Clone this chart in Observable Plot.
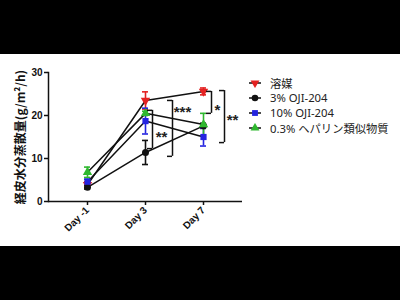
<!DOCTYPE html>
<html>
<head>
<meta charset="utf-8">
<script src="https://cdn.jsdelivr.net/npm/d3@7"></script>
<script src="https://cdn.jsdelivr.net/npm/@observablehq/plot@0.6"></script>
<style>
  html, body { margin: 0; padding: 0; background: #000; width: 400px; height: 300px; overflow: hidden; }
  #panel { position: absolute; left: 0; top: 54px; width: 400px; height: 192px; background: #fff; }
  #legend { position: absolute; left: 248px; top: 21px; font-family: "Noto Sans", "Noto Sans CJK JP", sans-serif; font-size: 11.3px; color: #222; }
  .row { display: flex; align-items: center; height: 15.2px; }
  .row svg { margin-right: 8px; }
</style>
</head>
<body>
<div id="panel"><div id="legend"></div></div>
<script>
const days = ["Day -1", "Day 3", "Day 7"];
const seriesNames = ["溶媒", "3% OJI-204", "10% OJI-204", "0.3% ヘパリン類似物質"];
const seriesColors = ["#e32222", "#111111", "#2424e0", "#2fb82f"];
const vehicleMean = [3.9, 23.5, 25.6];
const vehicleErr  = [0.7, 2.0, 0.8];
const oji3Mean    = [3.3, 11.4, 17.6];
const oji3Err     = [0.4, 2.8, 0.6];
const oji10Mean   = [4.6, 18.7, 15.0];
const oji10Err    = [0.6, 3.0, 2.1];
const hepMean     = [6.8, 20.5, 17.9];
const hepErr      = [1.2, 0.5, 2.6];
const yTicks = [0, 10, 20, 30];
const yLabel = "経皮水分蒸散量(g/m²/h)";
const brackets = [
  {day: "Day 3", off: 7,  top: 21.2, bottom: 12.3, label: "**",  labelY: 16.0, labelOff: 16},
  {day: "Day 3", off: 27, top: 23.5, bottom: 10.5, label: "***", labelY: 21.6, labelOff: 37},
  {day: "Day 7", off: 8,  top: 25.6, bottom: 20.5, label: "*",   labelY: 22.1, labelOff: 14},
  {day: "Day 7", off: 21, top: 25.8, bottom: 13.7, label: "**",  labelY: 19.8, labelOff: 29}
];

const sqrt3 = Math.sqrt(3);
const triangleDown = {
  draw(context, size) {
    const y = -Math.sqrt(size / (sqrt3 * 3));
    context.moveTo(0, -y * 2);
    context.lineTo(-sqrt3 * y, y);
    context.lineTo(sqrt3 * y, y);
    context.closePath();
  }
};
const symbols = [triangleDown, d3.symbolCircle, d3.symbolSquare, d3.symbolTriangle];
const means = [vehicleMean, oji3Mean, oji10Mean, hepMean];
const errs = [vehicleErr, oji3Err, oji10Err, hepErr];

const data = [];
seriesNames.forEach((s, k) => days.forEach((d, i) => data.push({
  series: s, day: d, mean: means[k][i], lo: means[k][i] - errs[k][i], hi: means[k][i] + errs[k][i],
  color: seriesColors[k], symbol: symbols[k]
})));
const barData = data.flatMap(d => [{...d, cap: d.lo}, {...d, cap: d.hi}]);

const plot = Plot.plot({
  width: 400, height: 192,
  marginTop: 18, marginBottom: 45, marginLeft: 48, marginRight: 158,
  style: {fontFamily: "'Liberation Sans', Arial, sans-serif", background: "transparent", color: "#111"},
  x: {type: "point", domain: days, padding: 0.672},
  y: {domain: [0, 30]},
  marks: [
    Plot.axisY({ticks: yTicks, tickSize: 4, tickPadding: 2, fontWeight: "bold", fontSize: 10, label: null, strokeWidth: 1.5}),
    Plot.axisX({tickSize: 4, tickRotate: -45, fontWeight: "bold", fontSize: 10, label: null, tickPadding: 3, strokeWidth: 1.5}),
    Plot.ruleY([0], {stroke: "#111", strokeWidth: 1.5}),
    Plot.frame({anchor: "left", stroke: "#111", strokeWidth: 1.5}),
    Plot.text([yLabel], {frameAnchor: "left", textAnchor: "middle", rotate: -90, dx: -27, fontWeight: "bold", fontSize: 12, fontFamily: "'Noto Sans CJK JP', sans-serif", fill: "#111"}),
    Plot.ruleX(data, {x: "day", y1: "lo", y2: "hi", stroke: "color", strokeWidth: 1.6}),
    Plot.ruleY(barData, {x1: "day", x2: "day", y: "cap", stroke: "color", strokeWidth: 1.6, insetLeft: -3, insetRight: -3}),
    Plot.line(data, {x: "day", y: "mean", z: "series", stroke: "#111", strokeWidth: 1.5}),
    Plot.dot(data, {x: "day", y: "mean", symbol: "symbol", fill: "color", r: 3.5}),
    ...brackets.map(b => Plot.ruleX([b], {x: "day", y1: "top", y2: "bottom", dx: b.off, stroke: "#111", strokeWidth: 1.5})),
    ...brackets.map(b => Plot.ruleY([b.top, b.bottom], {x1: () => b.day, x2: () => b.day, y: d => d, dx: b.off, insetLeft: -5, insetRight: 0, stroke: "#111", strokeWidth: 1.5})),
    ...brackets.map(b => Plot.text([b], {x: "day", y: "labelY", text: "label", dx: b.labelOff, dy: 4, fontSize: 15, fontWeight: "bold", fill: "#222"}))
  ]
});
document.getElementById("panel").appendChild(plot);

const legend = d3.select("#legend");
seriesNames.forEach((s, k) => {
  const row = legend.append("div").attr("class", "row");
  const svg = row.append("svg").attr("width", 14).attr("height", 10);
  svg.append("line").attr("x1", 1).attr("x2", 13).attr("y1", 5).attr("y2", 5).attr("stroke", "#111").attr("stroke-width", 1.5);
  svg.append("path").attr("transform", "translate(7,5)").attr("d", d3.symbol().type(symbols[k]).size(34)()).attr("fill", seriesColors[k]);
  row.append("span").text(s);
});
</script>
</body>
</html>
